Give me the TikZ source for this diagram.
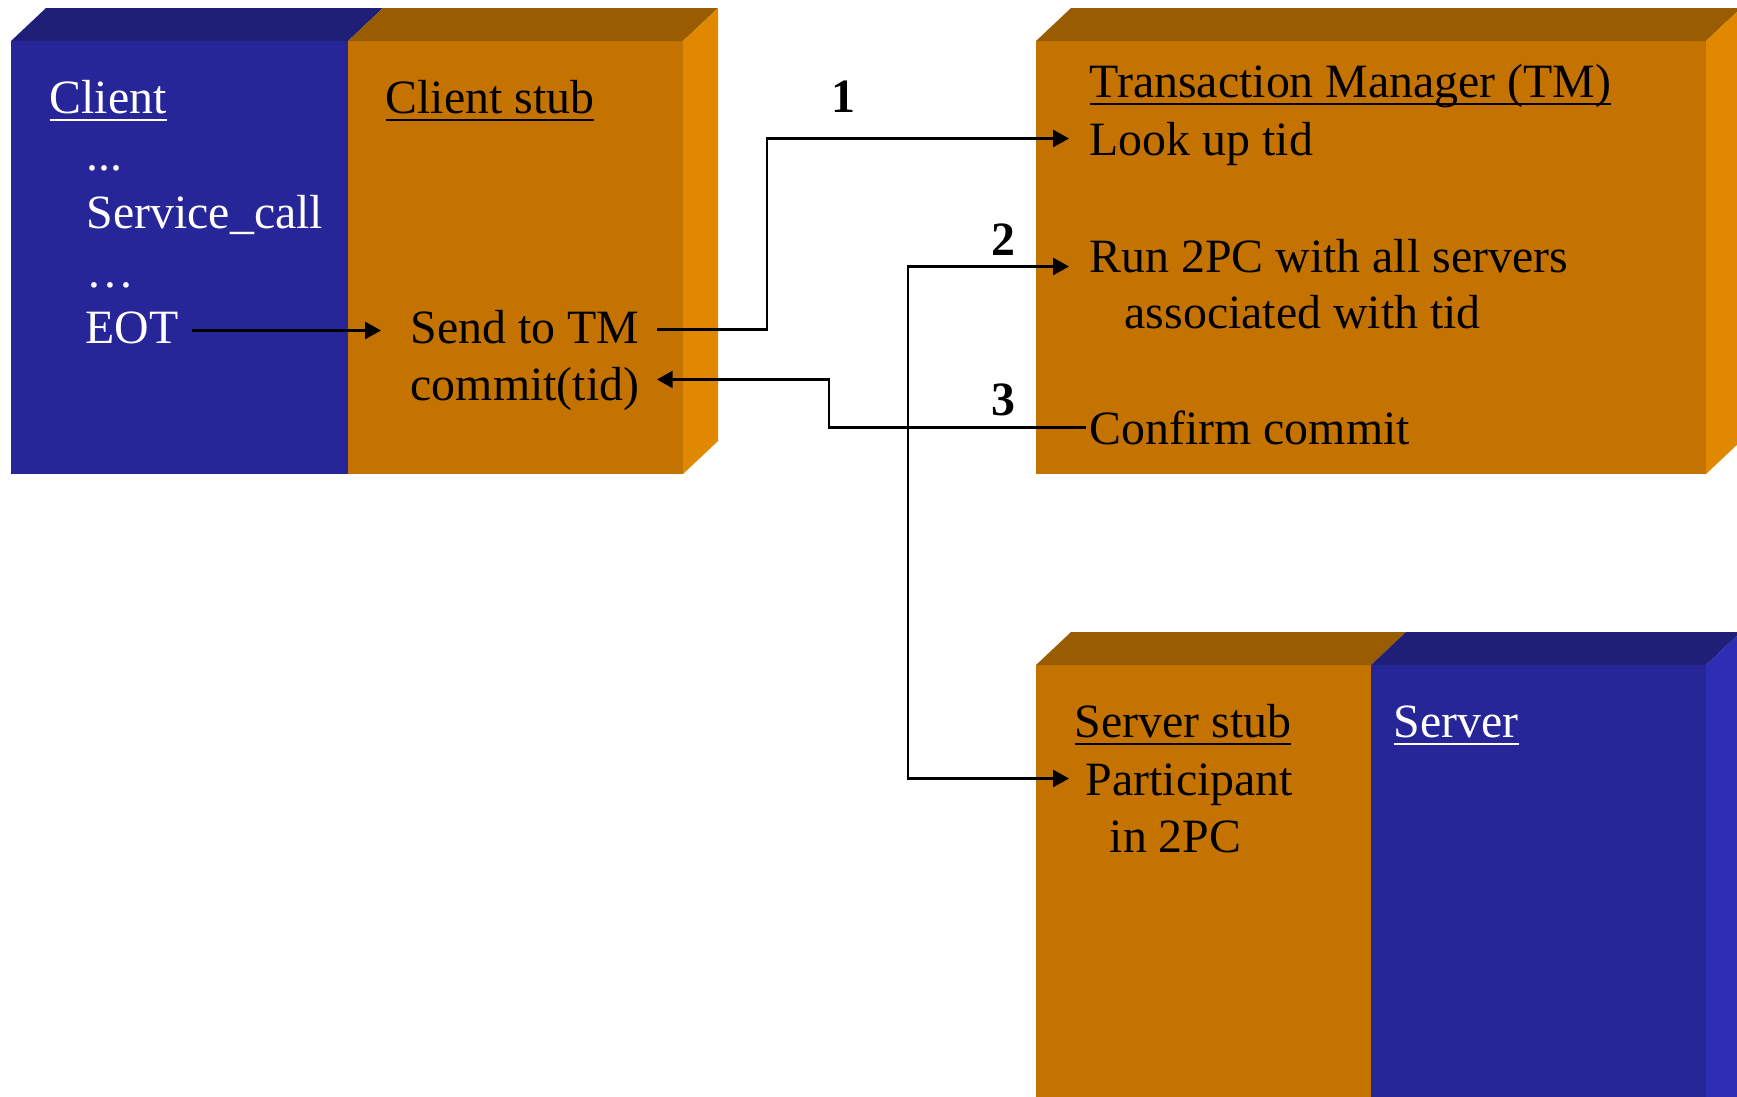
\documentclass[tikz,border=0pt]{standalone}
\usepackage{fontspec}
\setmainfont{Liberation Serif}
\usetikzlibrary{arrows.meta,positioning}
\definecolor{frontblue}{RGB}{38,38,153}
\definecolor{topblue}{RGB}{31,31,119}
\definecolor{sideblue}{RGB}{46,46,181}
\definecolor{frontorange}{RGB}{196,115,0}
\definecolor{toporange}{RGB}{153,92,0}
\definecolor{sideorange}{RGB}{224,136,0}
\newsavebox{\ulinebox}
\newcommand{\uln}[1]{\sbox{\ulinebox}{#1}\rlap{\rule[-2.3pt]{\wd\ulinebox}{0.6pt}}\usebox{\ulinebox}}

\begin{document}
\begin{tikzpicture}[x=0.01cm, y=-0.01cm, txt/.style={anchor=base west, inner sep=0pt, text height=0.94em, text depth=0pt, font=\fontsize{13.6}{16}\selectfont}, wtxt/.style={txt, text=white}, num/.style={anchor=base, inner sep=0pt, font=\fontsize{13.6}{16}\selectfont\bfseries}, arr/.style={-{Triangle[length=4.5pt, width=4.8pt]}, line width=0.8pt}]
\useasboundingbox (0,0) rectangle (1737,1096);
\clip (0,0) rectangle (1737,1096);
% client block
\fill[frontblue] (11,41) rectangle (348,474);
\fill[frontorange] (348,41) rectangle (683,474);
\fill[topblue] (11,41) -- (46,8) -- (383,8) -- (348,41) -- cycle;
\fill[toporange] (348,41) -- (383,8) -- (718,8) -- (683,41) -- cycle;
\fill[sideorange] (683,41) -- (718,8) -- (718,441) -- (683,474) -- cycle;
% transaction manager block
\fill[frontorange] (1036,41) rectangle (1706,474);
\fill[toporange] (1036,41) -- (1071,8) -- (1741,8) -- (1706,41) -- cycle;
\fill[sideorange] (1706,41) -- (1741,8) -- (1741,441) -- (1706,474) -- cycle;
% server block
\fill[frontorange] (1036,665) rectangle (1371,1100);
\fill[frontblue] (1371,665) rectangle (1706,1100);
\fill[toporange] (1036,665) -- (1071,632) -- (1406,632) -- (1371,665) -- cycle;
\fill[topblue] (1371,665) -- (1406,632) -- (1741,632) -- (1706,665) -- cycle;
\fill[sideblue] (1706,665) -- (1741,632) -- (1741,1100) -- (1706,1100) -- cycle;

\node[wtxt] (cl) at (49,113) {\uln{Client}};
\node[wtxt] (dots1) at (86,170) {...};
\node[wtxt] (call) at (86,228) {Service\_call};
\node[wtxt] (dots2) at (86,287) {…};
\node[wtxt] (eot) at (85,343) {EOT};
\node[txt] (cs) at (385,113) {\uln{Client stub}};
\node[txt] (send) at (410,343) {Send to TM};
\node[txt] (commit) at (410,400) {commit(tid)};

\node[txt] (tm) at (1089,97) {\uln{Transaction Manager (TM)}};
\node[txt] (look) at (1089,155) {Look up tid};
\node[txt] (run) at (1089,272) {Run 2PC with all servers};
\node[txt] (assoc) at (1124,328) {associated with tid};
\node[txt] (confirm) at (1089,444) {Confirm commit};

\node[txt] (ss) at (1074,737) {\uln{Server stub}};
\node[txt] (part) at (1085,795) {Participant};
\node[txt] (in2pc) at (1109,852) {in 2PC};
\node[wtxt] (srv) at (1393,737) {\uln{Server}};

\node[num] (n1) at (843,112) {1};
\node[num] (n2) at (1003,255) {2};
\node[num] (n3) at (1003,415) {3};

\draw[arr, shorten <=0.13cm, shorten >=0.29cm] ([yshift=-0.04cm]eot.east) -- ([yshift=-0.04cm]send.west);
\draw[arr, shorten <=0.17cm, shorten >=0.2cm] ([yshift=-0.03cm]send.east) -- ++(127,0) |- (look.west);
\draw[{Triangle[length=4.5pt, width=4.8pt]}-{Triangle[length=4.5pt, width=4.8pt]}, line width=0.8pt, shorten <=0.2cm, shorten >=0.16cm] ([yshift=-0.11cm]run.west) -- ++(-181,0) |- (part.west);
\draw[arr, shorten <=0.03cm, shorten >=0.17cm] (confirm.west) -- ++(-260,0) |- ([yshift=0.04cm]commit.east);
\end{tikzpicture}
\end{document}
